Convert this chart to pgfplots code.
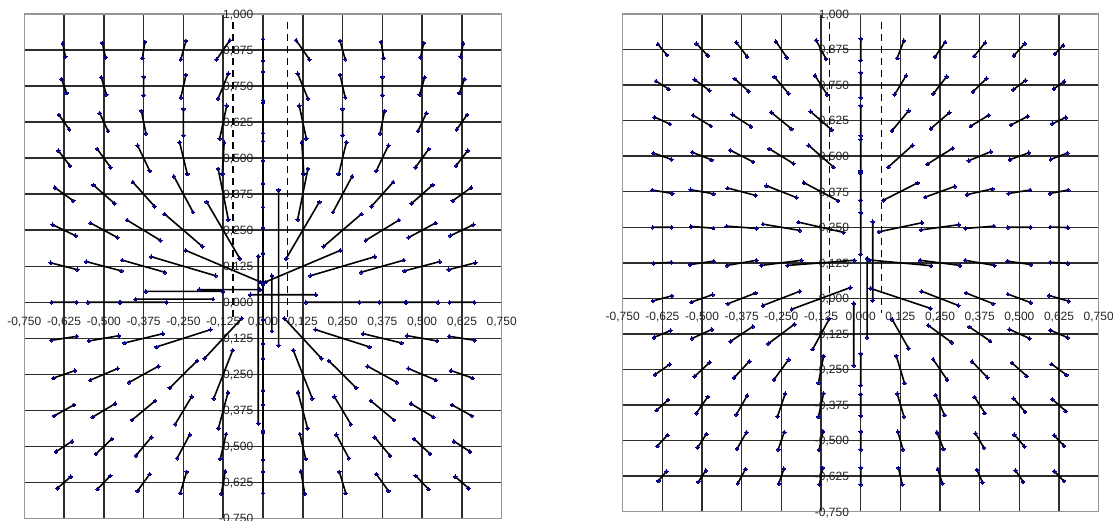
\documentclass[border=0pt]{standalone}
\usepackage{pgfplots}
\pgfplotsset{compat=1.18}
\usepackage{fontspec}
\setmainfont{Liberation Sans}
\definecolor{navy}{RGB}{0,0,128}
\definecolor{gridc}{RGB}{45,45,45}
\definecolor{framec}{RGB}{150,150,150}
\pgfplotsset{
  vf/.style={
    scale only axis, anchor=south west,
    xmin=-0.75, xmax=0.75, ymin=-0.75, ymax=1,
    xtick={-0.75,-0.625,-0.5,-0.375,-0.25,-0.125,0,0.125,0.25,0.375,0.5,0.625,0.75},
    ytick={-0.75,-0.625,-0.5,-0.375,-0.25,-0.125,0,0.125,0.25,0.375,0.5,0.625,0.75,0.875,1},
    xticklabels={{-0,750},{-0,625},{-0,500},{-0,375},{-0,250},{-0,125},{0,000},{0,125},{0,250},{0,375},{0,500},{0,625},{0,750}},
    yticklabels={{-0,750},{-0,625},{-0,500},{-0,375},{-0,250},{-0,125},{0,000},{0,125},{0,250},{0,375},{0,500},{0,625},{0,750},{0,875},{1,000}},
    grid=major, major grid style={gridc, line width=1.5pt},
    axis line style={framec, line width=1.5pt},
    tick style={draw=none},
    ticklabel style={font=\fontsize{12}{14}\selectfont, text=black!85},
    unbounded coords=jump,
    clip=false,
  },
  seg/.style={black, line width=1.6pt, mark=*, mark size=1.8pt,
    mark options={draw=navy, fill=navy, line width=0pt}},
  dsh/.style={black, line width=1.6pt, dash pattern=on 7pt off 5pt},
}
\begin{document}
\begin{tikzpicture}
\useasboundingbox (0,0) rectangle (1113pt,520pt);
% ---------------- left panel ----------------
\begin{axis}[vf, at={(24.3pt,1.5pt)}, width=477.4pt, height=504.5pt,
  xticklabel style={anchor=base, yshift=193pt},
  yticklabel style={anchor=base east, xshift=232.5pt, yshift=-4.3pt}]
\addplot[dsh] coordinates {(-0.094,0.973) (-0.094,-0.06)};
\addplot[dsh] coordinates {(0.077,0.973) (0.077,-0.06)};
\addplot[seg] table {
x y
0 0.913
0 0.837
nan nan
0.104 0.909
0.146 0.842
nan nan
-0.104 0.909
-0.146 0.842
nan nan
0.242 0.907
0.258 0.843
nan nan
-0.242 0.907
-0.258 0.843
nan nan
0.371 0.903
0.379 0.847
nan nan
-0.371 0.903
-0.379 0.847
nan nan
0.505 0.900
0.495 0.850
nan nan
-0.505 0.900
-0.495 0.850
nan nan
0.629 0.898
0.621 0.852
nan nan
-0.629 0.898
-0.621 0.852
nan nan
0 0.799
0 0.701
nan nan
0.109 0.793
0.141 0.707
nan nan
-0.109 0.793
-0.141 0.707
nan nan
0.242 0.789
0.258 0.711
nan nan
-0.242 0.789
-0.258 0.711
nan nan
0.375 0.782
0.375 0.718
nan nan
-0.375 0.782
-0.375 0.718
nan nan
0.508 0.780
0.492 0.720
nan nan
-0.508 0.780
-0.492 0.720
nan nan
0.633 0.774
0.617 0.726
nan nan
-0.633 0.774
-0.617 0.726
nan nan
0 0.692
0 0.559
nan nan
0.114 0.682
0.136 0.568
nan nan
-0.114 0.682
-0.136 0.568
nan nan
0.25 0.671
0.25 0.579
nan nan
-0.25 0.671
-0.25 0.579
nan nan
0.382 0.664
0.368 0.586
nan nan
-0.382 0.664
-0.368 0.586
nan nan
0.513 0.656
0.487 0.594
nan nan
-0.513 0.656
-0.487 0.594
nan nan
0.641 0.650
0.609 0.600
nan nan
-0.641 0.650
-0.609 0.600
nan nan
0 0.587
0 0.413
nan nan
0.122 0.555
0.128 0.445
nan nan
-0.122 0.555
-0.128 0.445
nan nan
0.262 0.555
0.238 0.445
nan nan
-0.262 0.555
-0.238 0.445
nan nan
0.394 0.544
0.356 0.456
nan nan
-0.394 0.544
-0.356 0.456
nan nan
0.521 0.532
0.479 0.468
nan nan
-0.521 0.532
-0.479 0.468
nan nan
0.643 0.526
0.607 0.474
nan nan
-0.643 0.526
-0.607 0.474
nan nan
0 0.491
0 0.259
nan nan
0.141 0.463
0.109 0.287
nan nan
-0.141 0.463
-0.109 0.287
nan nan
0.280 0.437
0.220 0.313
nan nan
-0.280 0.437
-0.220 0.313
nan nan
0.409 0.417
0.341 0.333
nan nan
-0.409 0.417
-0.341 0.333
nan nan
0.533 0.407
0.467 0.343
nan nan
-0.533 0.407
-0.467 0.343
nan nan
0.654 0.398
0.596 0.352
nan nan
-0.654 0.398
-0.596 0.352
nan nan
0 0.33
0 0.17
nan nan
0.177 0.348
0.073 0.152
nan nan
-0.177 0.348
-0.073 0.152
nan nan
0.309 0.306
0.191 0.194
nan nan
-0.309 0.306
-0.191 0.194
nan nan
0.427 0.285
0.323 0.215
nan nan
-0.427 0.285
-0.323 0.215
nan nan
0.542 0.275
0.458 0.225
nan nan
-0.542 0.275
-0.458 0.225
nan nan
0.661 0.269
0.589 0.231
nan nan
-0.661 0.269
-0.589 0.231
nan nan
0 0.17
0 0.06
nan nan
0.243 0.180
0.007 0.070
nan nan
-0.243 0.180
-0.007 0.070
nan nan
0.351 0.158
0.149 0.092
nan nan
-0.351 0.158
-0.149 0.092
nan nan
0.442 0.146
0.308 0.104
nan nan
-0.442 0.146
-0.308 0.104
nan nan
0.555 0.141
0.445 0.109
nan nan
-0.555 0.141
-0.445 0.109
nan nan
0.667 0.137
0.583 0.113
nan nan
-0.667 0.137
-0.583 0.113
nan nan
0 0.06
0 -0.06
nan nan
-0.04 0.026
0.166 0.026
nan nan
0.135 0
0.365 0
nan nan
0.303 0
0.447 0
nan nan
-0.303 0
-0.447 0
nan nan
0.450 0
0.550 0
nan nan
-0.450 0
-0.550 0
nan nan
0.586 0
0.664 0
nan nan
-0.586 0
-0.664 0
nan nan
-0.40 0.011
-0.157 0.011
nan nan
-0.368 0.038
-0.126 0.038
nan nan
-0.2 0.044
-0.01 0.044
nan nan
0 -0.06
0 -0.195
nan nan
0.067 -0.056
0.183 -0.194
nan nan
-0.067 -0.056
-0.183 -0.194
nan nan
0.165 -0.095
0.335 -0.155
nan nan
-0.165 -0.095
-0.335 -0.155
nan nan
0.315 -0.109
0.435 -0.141
nan nan
-0.315 -0.109
-0.435 -0.141
nan nan
0.453 -0.116
0.547 -0.134
nan nan
-0.453 -0.116
-0.547 -0.134
nan nan
0.585 -0.118
0.665 -0.132
nan nan
-0.585 -0.118
-0.665 -0.132
nan nan
0 -0.144
0 -0.356
nan nan
0.095 -0.166
0.155 -0.334
nan nan
-0.095 -0.166
-0.155 -0.334
nan nan
0.207 -0.203
0.293 -0.297
nan nan
-0.207 -0.203
-0.293 -0.297
nan nan
0.329 -0.222
0.421 -0.278
nan nan
-0.329 -0.222
-0.421 -0.278
nan nan
0.457 -0.230
0.543 -0.270
nan nan
-0.457 -0.230
-0.543 -0.270
nan nan
0.591 -0.237
0.659 -0.263
nan nan
-0.591 -0.237
-0.659 -0.263
nan nan
0 -0.305
0 -0.445
nan nan
0.110 -0.313
0.140 -0.437
nan nan
-0.110 -0.313
-0.140 -0.437
nan nan
0.224 -0.327
0.276 -0.423
nan nan
-0.224 -0.327
-0.276 -0.423
nan nan
0.339 -0.342
0.411 -0.408
nan nan
-0.339 -0.342
-0.411 -0.408
nan nan
0.465 -0.352
0.535 -0.398
nan nan
-0.465 -0.352
-0.535 -0.398
nan nan
0.594 -0.356
0.656 -0.394
nan nan
-0.594 -0.356
-0.656 -0.394
nan nan
0 -0.453
0 -0.547
nan nan
0.116 -0.457
0.134 -0.543
nan nan
-0.116 -0.457
-0.134 -0.543
nan nan
0.230 -0.459
0.270 -0.541
nan nan
-0.230 -0.459
-0.270 -0.541
nan nan
0.351 -0.468
0.399 -0.532
nan nan
-0.351 -0.468
-0.399 -0.532
nan nan
0.475 -0.474
0.525 -0.526
nan nan
-0.475 -0.474
-0.525 -0.526
nan nan
0.600 -0.482
0.650 -0.518
nan nan
-0.600 -0.482
-0.650 -0.518
nan nan
0 -0.588
0 -0.662
nan nan
0.119 -0.586
0.131 -0.664
nan nan
-0.119 -0.586
-0.131 -0.664
nan nan
0.240 -0.588
0.260 -0.662
nan nan
-0.240 -0.588
-0.260 -0.662
nan nan
0.356 -0.596
0.394 -0.654
nan nan
-0.356 -0.596
-0.394 -0.654
nan nan
0.480 -0.602
0.520 -0.648
nan nan
-0.480 -0.602
-0.520 -0.648
nan nan
0.604 -0.605
0.646 -0.645
nan nan
-0.604 -0.605
-0.646 -0.645
nan nan
-0.015 0.16
-0.015 -0.42
nan nan
0.028 0.092
0.028 -0.10
nan nan
0.049 0.39
0.049 -0.15
};
\end{axis}
% ---------------- right panel ----------------
\begin{axis}[vf, at={(622.7pt,8.3pt)}, width=476pt, height=497.7pt,
  xticklabel style={anchor=base, yshift=191.7pt},
  yticklabel style={anchor=base east, xshift=229.8pt, yshift=-4.3pt}]
\addplot[dsh] coordinates {(-0.098,0.973) (-0.098,-0.05)};
\addplot[dsh] coordinates {(0.066,0.973) (0.066,-0.05)};
\addplot[seg] table {
x y
-0.639 0.894
-0.611 0.856
nan nan
-0.518 0.896
-0.482 0.854
nan nan
-0.392 0.900
-0.358 0.850
nan nan
-0.267 0.903
-0.233 0.847
nan nan
-0.140 0.907
-0.110 0.843
nan nan
0 0.913
0 0.837
nan nan
0.136 0.906
0.115 0.845
nan nan
0.266 0.901
0.234 0.849
nan nan
0.392 0.899
0.358 0.852
nan nan
0.517 0.896
0.483 0.854
nan nan
0.638 0.890
0.612 0.860
nan nan
-0.645 0.764
-0.605 0.736
nan nan
-0.523 0.769
-0.477 0.731
nan nan
-0.397 0.772
-0.353 0.728
nan nan
-0.272 0.779
-0.228 0.721
nan nan
-0.144 0.783
-0.106 0.717
nan nan
0 0.794
0 0.706
nan nan
0.143 0.783
0.107 0.717
nan nan
0.271 0.780
0.229 0.720
nan nan
0.396 0.773
0.354 0.727
nan nan
0.519 0.766
0.481 0.734
nan nan
0.641 0.763
0.609 0.737
nan nan
-0.649 0.637
-0.601 0.613
nan nan
-0.528 0.644
-0.472 0.606
nan nan
-0.404 0.646
-0.346 0.604
nan nan
-0.282 0.654
-0.218 0.596
nan nan
-0.158 0.657
-0.092 0.593
nan nan
0 0.678
0 0.572
nan nan
0.151 0.660
0.099 0.590
nan nan
0.279 0.653
0.221 0.597
nan nan
0.403 0.644
0.347 0.606
nan nan
0.526 0.640
0.474 0.610
nan nan
0.646 0.636
0.604 0.614
nan nan
-0.653 0.511
-0.597 0.489
nan nan
-0.531 0.514
-0.470 0.487
nan nan
-0.411 0.521
-0.339 0.480
nan nan
-0.288 0.526
-0.212 0.474
nan nan
-0.164 0.538
-0.086 0.462
nan nan
0 0.559
0 0.441
nan nan
0.163 0.538
0.087 0.462
nan nan
0.290 0.528
0.210 0.472
nan nan
0.410 0.516
0.340 0.484
nan nan
0.530 0.512
0.470 0.488
nan nan
0.651 0.511
0.599 0.489
nan nan
-0.657 0.381
-0.594 0.369
nan nan
-0.536 0.382
-0.464 0.368
nan nan
-0.419 0.388
-0.331 0.362
nan nan
-0.297 0.396
-0.203 0.355
nan nan
-0.179 0.407
-0.071 0.343
nan nan
0 0.448
0 0.302
nan nan
0.179 0.406
0.071 0.345
nan nan
0.297 0.394
0.203 0.356
nan nan
0.415 0.385
0.335 0.365
nan nan
0.534 0.381
0.466 0.369
nan nan
0.654 0.381
0.596 0.369
nan nan
-0.655 0.25
-0.595 0.25
nan nan
-0.535 0.253
-0.465 0.247
nan nan
-0.422 0.254
-0.328 0.246
nan nan
-0.308 0.261
-0.192 0.239
nan nan
-0.196 0.268
-0.054 0.232
nan nan
0 0.345
0 0.155
nan nan
0.193 0.266
0.057 0.234
nan nan
0.309 0.259
0.191 0.241
nan nan
0.420 0.254
0.330 0.246
nan nan
0.536 0.25
0.464 0.25
nan nan
0.653 0.249
0.597 0.251
nan nan
-0.597 0.127
-0.653 0.123
nan nan
-0.463 0.131
-0.537 0.119
nan nan
-0.329 0.134
-0.421 0.116
nan nan
-0.187 0.134
-0.313 0.116
nan nan
-0.020 0.134
-0.230 0.116
nan nan
0.028 0.135
0.222 0.115
nan nan
0.187 0.134
0.313 0.116
nan nan
0.329 0.134
0.421 0.116
nan nan
0.463 0.131
0.537 0.119
nan nan
0.597 0.127
0.653 0.123
nan nan
-0.595 0.009
-0.655 -0.009
nan nan
-0.467 0.013
-0.533 -0.013
nan nan
-0.331 0.019
-0.419 -0.019
nan nan
-0.192 0.025
-0.308 -0.025
nan nan
-0.033 0.038
-0.217 -0.038
nan nan
0.031 0.035
0.220 -0.035
nan nan
0.192 0.025
0.308 -0.025
nan nan
0.332 0.019
0.418 -0.019
nan nan
0.464 0.015
0.536 -0.015
nan nan
0.594 0.010
0.656 -0.010
nan nan
-0.599 -0.113
-0.651 -0.137
nan nan
-0.469 -0.109
-0.532 -0.141
nan nan
-0.340 -0.099
-0.410 -0.151
nan nan
-0.209 -0.091
-0.291 -0.159
nan nan
-0.099 -0.072
-0.151 -0.178
nan nan
0.099 -0.074
0.151 -0.176
nan nan
0.213 -0.095
0.287 -0.155
nan nan
0.342 -0.100
0.408 -0.150
nan nan
0.469 -0.109
0.532 -0.141
nan nan
0.598 -0.112
0.652 -0.138
nan nan
-0.602 -0.232
-0.648 -0.268
nan nan
-0.476 -0.225
-0.524 -0.275
nan nan
-0.351 -0.221
-0.399 -0.279
nan nan
-0.227 -0.215
-0.273 -0.285
nan nan
-0.117 -0.203
-0.133 -0.297
nan nan
0 -0.194
0 -0.306
nan nan
0.112 -0.202
0.138 -0.298
nan nan
0.228 -0.214
0.272 -0.286
nan nan
0.351 -0.222
0.399 -0.278
nan nan
0.477 -0.227
0.523 -0.273
nan nan
0.602 -0.231
0.648 -0.269
nan nan
-0.607 -0.357
-0.643 -0.393
nan nan
-0.482 -0.346
-0.518 -0.404
nan nan
-0.358 -0.342
-0.392 -0.409
nan nan
-0.238 -0.335
-0.262 -0.415
nan nan
-0.117 -0.334
-0.133 -0.416
nan nan
0 -0.337
0 -0.413
nan nan
0.115 -0.335
0.136 -0.415
nan nan
0.236 -0.340
0.264 -0.410
nan nan
0.359 -0.347
0.391 -0.403
nan nan
0.482 -0.352
0.518 -0.399
nan nan
0.604 -0.355
0.646 -0.396
nan nan
-0.609 -0.481
-0.641 -0.519
nan nan
-0.486 -0.477
-0.514 -0.524
nan nan
-0.360 -0.471
-0.390 -0.529
nan nan
-0.241 -0.470
-0.260 -0.531
nan nan
-0.119 -0.468
-0.131 -0.532
nan nan
0 -0.468
0 -0.532
nan nan
0.117 -0.469
0.133 -0.531
nan nan
0.240 -0.471
0.261 -0.529
nan nan
0.362 -0.475
0.388 -0.525
nan nan
0.484 -0.479
0.516 -0.521
nan nan
0.610 -0.482
0.640 -0.518
nan nan
-0.612 -0.608
-0.638 -0.642
nan nan
-0.488 -0.605
-0.512 -0.645
nan nan
-0.363 -0.600
-0.387 -0.650
nan nan
-0.242 -0.599
-0.258 -0.651
nan nan
-0.120 -0.596
-0.130 -0.654
nan nan
0 -0.595
0 -0.655
nan nan
0.119 -0.596
0.131 -0.654
nan nan
0.243 -0.600
0.257 -0.650
nan nan
0.366 -0.603
0.384 -0.647
nan nan
0.488 -0.605
0.512 -0.645
nan nan
0.610 -0.608
0.640 -0.642
nan nan
0.038 0.27
0.038 -0.007
nan nan
0.02 0.14
0.02 -0.137
nan nan
-0.022 -0.018
-0.022 -0.236
};
\end{axis}
\end{tikzpicture}
\end{document}
